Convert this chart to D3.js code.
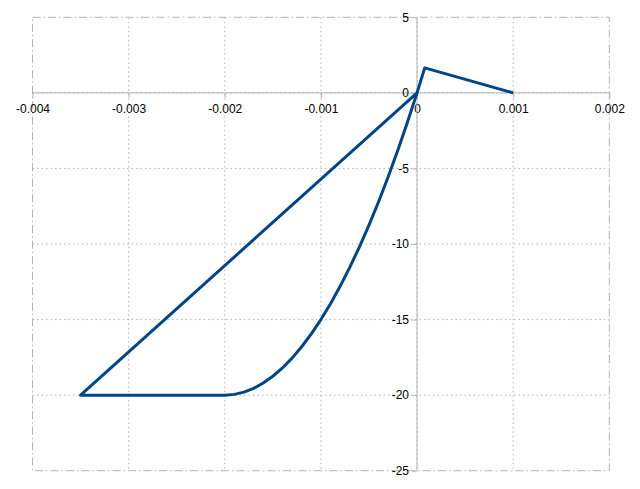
<!DOCTYPE html>
<html><head><meta charset="utf-8">
<script src="https://cdn.jsdelivr.net/npm/d3@7"></script>
<style>body{margin:0;background:#fff}svg{display:block}text{font-family:"Liberation Sans",Arial,sans-serif;font-size:12px;fill:#000}</style>
</head><body>
<svg id="c" width="640" height="489"></svg>
<script>
const strain = [0.001, 0.00008, 0,
  -0.0001, -0.0002, -0.0003, -0.0004, -0.0005, -0.0006, -0.0007, -0.0008, -0.0009, -0.001,
  -0.0011, -0.0012, -0.0013, -0.0014, -0.0015, -0.0016, -0.0017, -0.0018, -0.0019, -0.002,
  -0.0035, 0];
const stress = [0, 1.65, 0,
  -1.95, -3.8, -5.55, -7.2, -8.75, -10.2, -11.55, -12.8, -13.95, -15,
  -15.95, -16.8, -17.55, -18.2, -18.75, -19.2, -19.55, -19.8, -19.95, -20,
  -20, 0];
const xTicks = [-0.004, -0.003, -0.002, -0.001, 0, 0.001, 0.002];
const yTicks = [-25, -20, -15, -10, -5, 0, 5];

const svg = d3.select("#c");
const L = 32.5, R = 609.3, T = 17.3, B = 470.7;
const x = d3.scaleLinear().domain([-0.004, 0.002]).range([L, R]);
const y = d3.scaleLinear().domain([-25, 5]).range([B, T]);
const grid = "#b3b3b3";

// grid
svg.append("g").selectAll("line").data(xTicks.slice(1, -1)).join("line")
  .attr("x1", d => x(d)).attr("x2", d => x(d)).attr("y1", T).attr("y2", B)
  .attr("stroke", grid).attr("stroke-dasharray", "1.5,3");
svg.append("g").selectAll("line").data(yTicks.slice(1, -1)).join("line")
  .attr("y1", d => y(d)).attr("y2", d => y(d)).attr("x1", L).attr("x2", R)
  .attr("stroke", grid).attr("stroke-dasharray", "1.5,3");
// border dash-dot
svg.append("rect").attr("x", L).attr("y", T).attr("width", R - L).attr("height", B - T)
  .attr("fill", "none").attr("stroke", grid).attr("stroke-dasharray", "8,3,1.5,3");

// axes through origin
const xAxis = d3.axisBottom(x).tickValues(xTicks).tickFormat(d => d === 0 ? "0" : String(+d.toFixed(3))).tickSizeOuter(0).tickSize(5).tickPadding(7);
const gx = svg.append("g").attr("transform", `translate(0,${y(0)})`).call(xAxis);
const yAxis = d3.axisLeft(y).tickValues(yTicks).tickFormat(d => String(d)).tickSizeOuter(0).tickSize(5).tickPadding(3);
const gy = svg.append("g").attr("transform", `translate(${x(0)},0)`).call(yAxis);
[gx, gy].forEach(g => {
  g.select(".domain").attr("stroke", grid).attr("stroke-width", 1);
  g.selectAll(".tick line").attr("stroke", grid);
  g.selectAll(".tick text").attr("fill", "#000").style("font-family", '"Liberation Sans", Arial, sans-serif').style("font-size", "12px");
});
gx.select(".domain").attr("d", `M${L},0H${R}`);
gy.select(".domain").attr("d", `M0,${T}V${B}`);

// series
const pts = strain.map((s, i) => [s, stress[i]]);
svg.append("path").datum(pts)
  .attr("d", d3.line().x(d => x(d[0])).y(d => y(d[1])))
  .attr("fill", "none").attr("stroke", "#004586").attr("stroke-width", 3).attr("stroke-linejoin", "round");
</script>
</body></html>
